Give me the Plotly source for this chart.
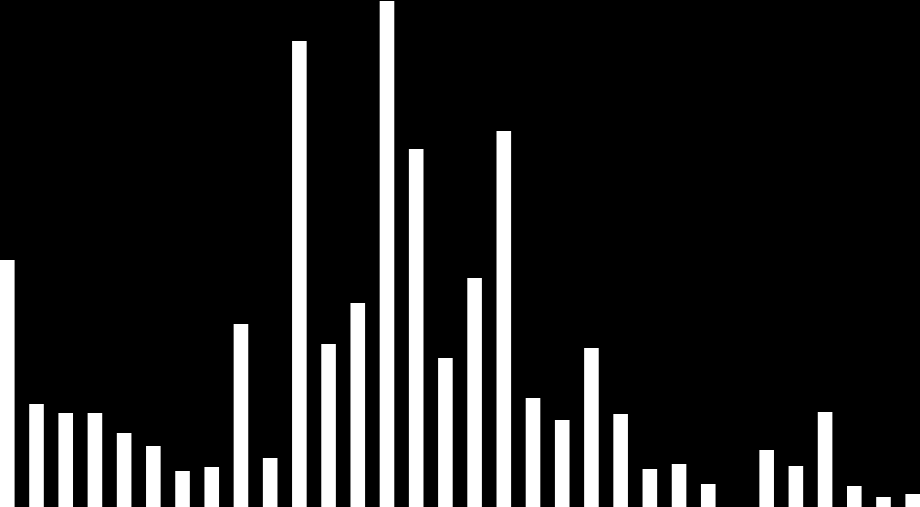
import plotly.graph_objects as go

positions = list(range(32))
values = [247, 103, 94, 94, 74, 61, 36, 40, 183, 49,
          466, 163, 204, 506, 358, 149, 229, 376, 109, 87,
          159, 93, 38, 43, 23, 0, 57, 41, 95, 21,
          10, 13]

fig = go.Figure()
fig.add_trace(go.Bar(x=positions, y=values, width=0.5,
                     marker=dict(color='white', line=dict(width=0))))

fig.update_layout(
    width=920, height=507,
    margin=dict(l=0, r=0, t=0, b=0),
    paper_bgcolor='black', plot_bgcolor='black',
    showlegend=False,
    xaxis=dict(range=[-0.25, 31.25], visible=False),
    yaxis=dict(range=[0, 507], visible=False),
)

# drop the page margin so the plot sits flush in the window
fig.write_html("out.html",
               config={'displayModeBar': False},
               post_script="document.body.style.margin='0';"
                           "document.body.style.background='black';")
